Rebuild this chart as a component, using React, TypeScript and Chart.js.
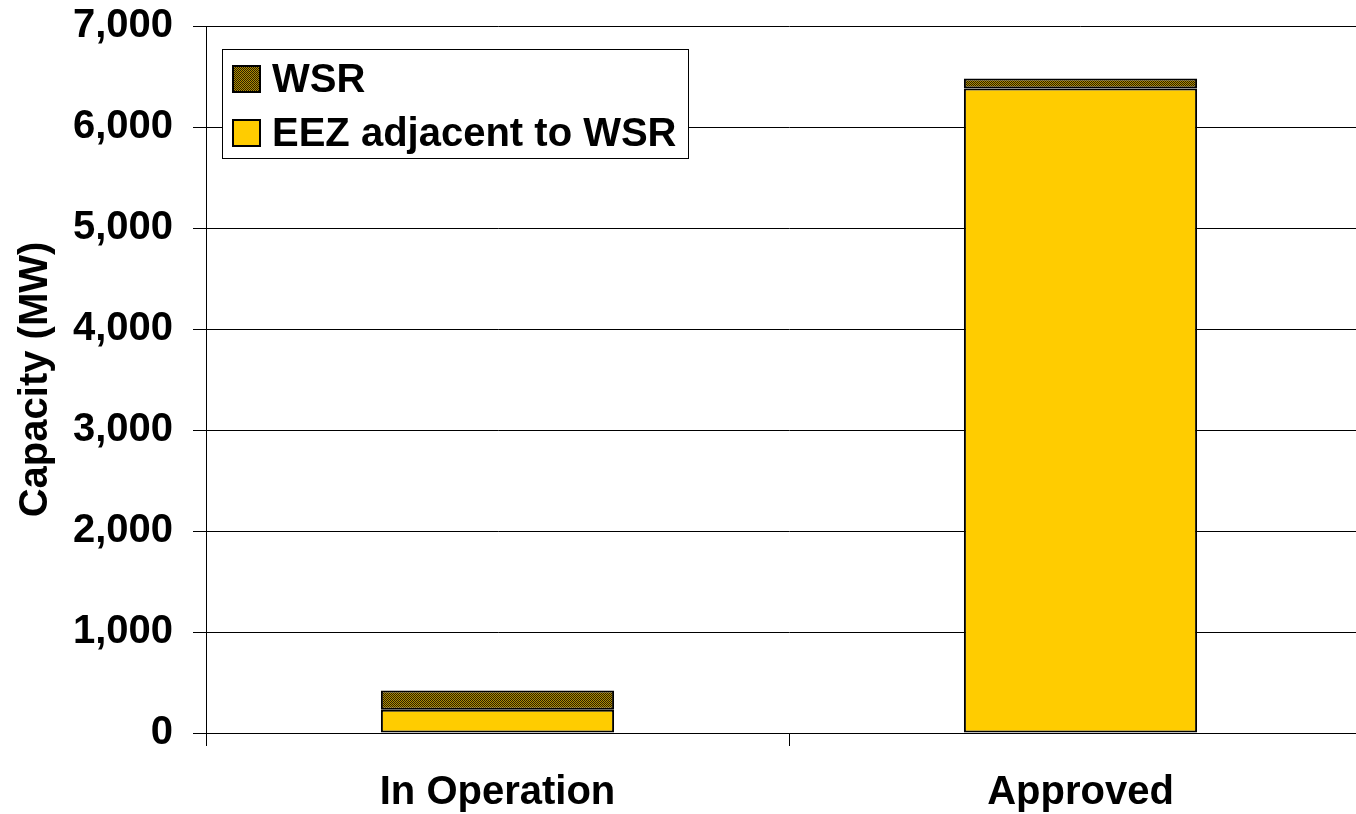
import React, { useEffect, useRef } from "react";
import { Chart, registerables } from "chart.js";

Chart.register(...registerables);

const categories = ["In Operation", "Approved"];
const eezValues = [230, 6380];
const wsrValues = [190, 100];
const yTicks = [0, 1000, 2000, 3000, 4000, 5000, 6000, 7000];
const yTitle = "Capacity (MW)";
const eezLabel = "EEZ adjacent to WSR";
const wsrLabel = "WSR";

const FONT = "'Liberation Sans', Arial, sans-serif";

function makePattern(): CanvasPattern | string {
  const c = document.createElement("canvas");
  c.width = 2;
  c.height = 2;
  const g = c.getContext("2d");
  if (!g) return "#5a4a10";
  g.fillStyle = "#b08c00";
  g.fillRect(0, 0, 2, 2);
  g.fillStyle = "#2a2000";
  g.fillRect(0, 0, 1, 1);
  g.fillRect(1, 1, 1, 1);
  const p = g.createPattern(c, "repeat");
  return p || "#5a4a10";
}

const boxLegend = {
  id: "boxLegend",
  afterDraw(chart: any) {
    const ctx = chart.ctx;
    const area = chart.chartArea;
    const left = area.left + 16;
    const top = area.top + 23;
    const w = 466;
    const h = 109;
    ctx.save();
    ctx.fillStyle = "#ffffff";
    ctx.fillRect(left, top, w, h);
    ctx.strokeStyle = "#000000";
    ctx.lineWidth = 1;
    ctx.strokeRect(left + 0.5, top + 0.5, w, h);
    const items = [chart.data.datasets[1], chart.data.datasets[0]];
    const rows = [top + 30, top + 84];
    ctx.font = `bold 40px ${FONT}`;
    ctx.textBaseline = "middle";
    items.forEach((ds: any, i: number) => {
      const cy = rows[i];
      ctx.fillStyle = ds.backgroundColor;
      ctx.fillRect(left + 11, cy - 13, 27, 26);
      ctx.strokeStyle = "#000000";
      ctx.lineWidth = 2;
      ctx.strokeRect(left + 11, cy - 13, 27, 26);
      ctx.fillStyle = "#000000";
      ctx.fillText(ds.label, left + 50, cy + 2);
    });
    ctx.restore();
  },
};

export default function App() {
  const ref = useRef<HTMLCanvasElement>(null);
  useEffect(() => {
    document.body.style.margin = "0";
    document.body.style.overflow = "hidden";
    if (!ref.current) return;
    const pattern = makePattern();
    const chart = new Chart(ref.current, {
      type: "bar",
      data: {
        labels: categories,
        datasets: [
          {
            label: eezLabel,
            data: eezValues,
            backgroundColor: "#FFCC00",
            borderColor: "#000000",
            borderWidth: 2,
            borderSkipped: false,
          },
          {
            label: wsrLabel,
            data: wsrValues,
            backgroundColor: pattern as any,
            borderColor: "#000000",
            borderWidth: 2,
            borderSkipped: false,
          },
        ],
      },
      options: {
        animation: false,
        responsive: false,
        maintainAspectRatio: false,
        layout: { padding: { top: 26, right: 0, left: 0, bottom: 0 } },
        datasets: { bar: { categoryPercentage: 1, barPercentage: 0.4 } },
        plugins: {
          legend: { display: false },
          tooltip: { enabled: false },
        },
        scales: {
          x: {
            stacked: true,
            afterFit: (s: any) => {
              s.height = 81;
              s.paddingLeft = 0;
              s.paddingRight = 0;
            },
            grid: {
              offset: true,
              drawOnChartArea: false,
              drawTicks: true,
              tickLength: 13,
              color: "#000000",
              lineWidth: 1,
            },
            border: { display: true, color: "#000000", width: 1 },
            ticks: {
              color: "#000000",
              font: { family: FONT, size: 40, weight: "bold" },
              padding: 23,
              maxRotation: 0,
            },
          },
          y: {
            stacked: true,
            min: 0,
            max: 7000,
            afterFit: (s: any) => {
              s.width = 206;
              s.paddingTop = 0;
              s.paddingBottom = 0;
            },
            afterBuildTicks: (s: any) => {
              s.ticks = yTicks.map((v) => ({ value: v }));
            },
            grid: {
              color: "#000000",
              lineWidth: 1,
              drawTicks: true,
              tickLength: 13,
            },
            border: { display: true, color: "#000000", width: 1 },
            ticks: {
              color: "#000000",
              font: { family: FONT, size: 40, weight: "bold" },
              padding: 20,
              callback: (v: any) => Number(v).toLocaleString("en-US"),
            },
            title: {
              display: true,
              text: yTitle,
              color: "#000000",
              font: { family: FONT, size: 40, weight: "bold" },
              padding: { top: 12, bottom: 0 },
            },
          },
        },
      },
      plugins: [boxLegend],
    });
    return () => chart.destroy();
  }, []);
  return (
    <div
      style={{
        position: "fixed",
        left: 0,
        top: 0,
        width: 1372,
        height: 814,
        overflow: "hidden",
        background: "#ffffff",
      }}
    >
      <canvas ref={ref} width={1372} height={814} style={{ display: "block" }} />
    </div>
  );
}
